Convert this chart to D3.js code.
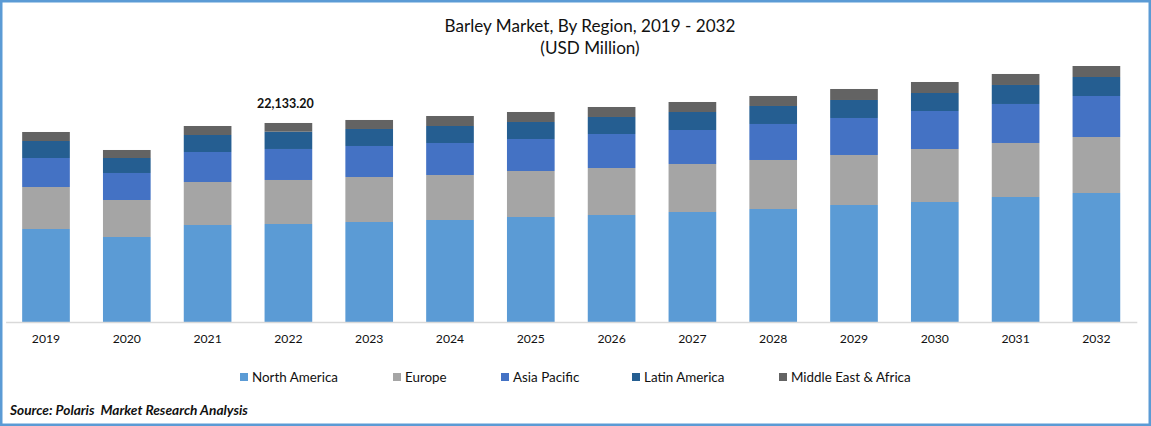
<!DOCTYPE html>
<html>
<head>
<meta charset="utf-8">
<script src="https://cdnjs.cloudflare.com/ajax/libs/d3/7.8.5/d3.min.js"></script>
<style>
html,body{margin:0;padding:0;background:#fff;overflow:hidden}
svg{display:block}
text{font-family:Lato,"Open Sans",sans-serif;fill:#111}
</style>
</head>
<body>
<svg id="c" width="1151" height="426"></svg>
<script>
const years = ["2019","2020","2021","2022","2023","2024","2025","2026","2027","2028","2029","2030","2031","2032"];
const regions = ["North America","Europe","Asia Pacific","Latin America","Middle East & Africa"];
const colors = ["#5b9bd5","#a5a5a5","#4472c4","#255e91","#636363"];
const northAmerica = [10343,9454,10788,10900,11122,11344,11678,11901,12234,12568,13013,13346,13903,14347];
const europe = [4671,4115,4782,4894,5005,5005,5116,5227,5339,5450,5561,5895,6006,6228];
const asiaPacific = [3225,3003,3337,3448,3448,3559,3559,3781,3781,4004,4115,4226,4338,4560];
const latinAmerica = [1891,1668,1891,1924,1891,1891,1891,1891,2002,2002,2002,2002,2113,2113];
const middleEastAfrica = [1001,890,1001,967,1001,1112,1112,1112,1112,1112,1223,1223,1223,1223];
const annotated = {year:"2022", label:"22,133.20"};

const seriesValues = [northAmerica,europe,asiaPacific,latinAmerica,middleEastAfrica];
const table = years.map((y,i)=>{
  const r={year:y};
  regions.forEach((n,k)=>r[n]=seriesValues[k][i]);
  return r;
});

const W=1151,H=426,baseY=322;
const svg=d3.select("#c");

// frame
svg.append("rect").attr("x",1.25).attr("y",1.25).attr("width",W-2.5).attr("height",H-2.5)
  .attr("fill","#fff").attr("stroke","#5b9bd5").attr("stroke-width",2.5);

// scales: 22,133.20 spans 199 px
const x=d3.scaleBand().domain(years).range([5.6,1136.8]).paddingInner(0.41).paddingOuter(0.205);
const y=d3.scaleLinear().domain([0,30000]).range([baseY,baseY-269.75]);

const stack=d3.stack().keys(regions)(table);
svg.append("g").selectAll("g").data(stack).join("g")
  .attr("fill",(d,i)=>colors[i])
  .selectAll("rect").data(d=>d).join("rect")
  .attr("x",d=>x(d.data.year))
  .attr("width",x.bandwidth())
  .attr("y",d=>y(d[1]))
  .attr("height",d=>y(d[0])-y(d[1]));

// axis
const ax=svg.append("g").attr("transform",`translate(0,${baseY})`)
  .call(d3.axisBottom(x).tickSize(0).tickPadding(12.5));
ax.select(".domain").attr("stroke","#d9d9d9").attr("stroke-width",1.5);
ax.selectAll("text").attr("font-size",12.2).style("font-family","Lato").attr("fill","#111");

// title
svg.append("text").attr("x",590).attr("y",32).attr("text-anchor","middle").attr("font-size",17.1).text("Barley Market, By Region, 2019 - 2032");
svg.append("text").attr("x",590).attr("y",54).attr("text-anchor","middle").attr("font-size",17.1).text("(USD Million)");

// annotation
const total=d3.sum(seriesValues,s=>s[years.indexOf(annotated.year)]);
svg.append("text").attr("x",x(annotated.year)+x.bandwidth()/2-3).attr("y",y(total)-14.5)
  .attr("text-anchor","middle").attr("font-size",12.5).attr("font-weight",700).text(annotated.label);

// legend
const legendX=[240,393,501,632,779];
const lg=svg.append("g").selectAll("g").data(regions).join("g")
  .attr("transform",(d,i)=>`translate(${legendX[i]},373)`);
lg.append("rect").attr("width",8).attr("height",8).attr("fill",(d,i)=>colors[i]);
lg.append("text").attr("x",12).attr("y",9).attr("font-size",13.4).text(d=>d);

// source
svg.append("text").attr("x",10).attr("y",415).attr("font-size",13.7).attr("font-weight",700).attr("font-style","italic")
  .text("Source: Polaris  Market Research Analysis").style("white-space","pre");
</script>
</body>
</html>
